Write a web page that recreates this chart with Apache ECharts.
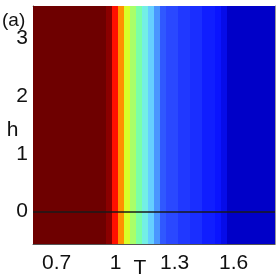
<!DOCTYPE html>
<html>
<head>
<meta charset="utf-8">
<script src="https://cdn.jsdelivr.net/npm/echarts@6/dist/echarts.min.js"></script>
<style>
html,body{margin:0;padding:0;background:#fff;}
#c{width:277px;height:277px;}
</style>
</head>
<body>
<div id="c"></div>
<script>
// T cell edges (41 edges -> 40 cells)
var tEdges = [0.580,0.611,0.642,0.672,0.703,0.734,0.765,0.795,0.826,0.857,
              0.888,0.918,0.949,0.980,1.011,1.041,1.072,1.103,1.134,1.164,
              1.195,1.226,1.257,1.287,1.318,1.349,1.380,1.410,1.441,1.472,
              1.503,1.533,1.564,1.595,1.626,1.656,1.687,1.718,1.749,1.779,1.810];
// colour value of each T cell (constant in h)
var cellValue = [1.0,1.0,1.0,1.0,1.0,1.0,1.0,1.0,1.0,1.0,
                 1.0,1.0,0.9,0.8,0.7,0.6,0.55,0.5,0.43,0.37,
                 0.3,0.22,0.2,0.2,0.17,0.17,0.15,0.15,0.12,0.12,
                 0.1,0.06,0.0,0.0,0.0,0.0,0.0,0.0,0.0,0.0];
var hRange = [-0.56, 3.56];
var tRange = [0.58, 1.81];
var xTicks = [0.7, 1.0, 1.3, 1.6];
var yTicks = [0, 1, 2, 3];
var xTickLabels = ['0.7', '1', '1.3', '1.6'];
var yTickLabels = ['0', '1', '2', '3'];
var xName = 'T', yName = 'h', panelTag = '(a)';

var cells = [];
for (var i = 0; i < cellValue.length; i++) {
  cells.push([tEdges[i], tEdges[i + 1], cellValue[i]]);
}

var FONT = "'Liberation Sans',Arial,sans-serif";
var chart = echarts.init(document.getElementById('c'), null, {renderer: 'canvas'});

function labelFmt(ticks, labels) {
  return function (v) {
    for (var i = 0; i < ticks.length; i++) {
      if (Math.abs(ticks[i] - v) < 1e-6) return labels[i];
    }
    return '';
  };
}

chart.setOption({
  animation: false,
  backgroundColor: '#fff',
  grid: {left: 33, top: 6, right: 2, bottom: 33, containLabel: false, outerBoundsMode: 'none'},
  visualMap: {
    type: 'continuous', show: false, min: 0, max: 1, dimension: 2, seriesIndex: 0,
    inRange: {color: ['#0000c8','#0a14ff','#2a48ff','#4a96ff','#70e8ff','#7affa8',
                      '#d8ff28','#ff9000','#ff1000','#8b0000','#6e0000']}
  },
  xAxis: [{
    type: 'value', min: tRange[0], max: tRange[1], position: 'bottom',
    axisLine: {show: true, onZero: false, lineStyle: {color: '#555', width: 1}},
    axisTick: {show: true, inside: true, length: 3, customValues: xTicks, lineStyle: {color: '#777'}},
    axisLabel: {show: true, customValues: xTicks, formatter: labelFmt(xTicks, xTickLabels),
      fontFamily: FONT, fontSize: 21, color: '#111', margin: 9},
    splitLine: {show: false}
  }, {
    type: 'value', min: tRange[0], max: tRange[1], position: 'top',
    axisLine: {show: true, onZero: false, lineStyle: {color: '#999', width: 1}},
    axisTick: {show: true, inside: true, length: 3, customValues: xTicks, lineStyle: {color: '#777'}},
    axisLabel: {show: false}, splitLine: {show: false}
  }],
  yAxis: [{
    type: 'value', min: hRange[0], max: hRange[1], position: 'left',
    axisLine: {show: true, onZero: false, lineStyle: {color: '#555', width: 1}},
    axisTick: {show: true, inside: true, length: 3, customValues: yTicks, lineStyle: {color: '#777'}},
    axisLabel: {show: true, customValues: yTicks, formatter: labelFmt(yTicks, yTickLabels),
      fontFamily: FONT, fontSize: 21, color: '#111', margin: 5},
    splitLine: {show: false}
  }, {
    type: 'value', min: hRange[0], max: hRange[1], position: 'right',
    axisLine: {show: true, onZero: false, lineStyle: {color: '#999', width: 1}},
    axisTick: {show: true, inside: true, length: 3, customValues: yTicks, lineStyle: {color: '#777'}},
    axisLabel: {show: false}, splitLine: {show: false}
  }],
  graphic: [{
    type: 'text', x: 2, y: 21,
    style: {text: panelTag, font: "19px " + FONT, fill: '#111', textAlign: 'left', textVerticalAlign: 'middle'}
  }, {
    type: 'text', x: 12.5, y: 130,
    style: {text: yName, font: "21px " + FONT, fill: '#111', textAlign: 'center', textVerticalAlign: 'middle'}
  }, {
    type: 'text', x: 140, y: 268,
    style: {text: xName, font: "21px " + FONT, fill: '#111', textAlign: 'center', textVerticalAlign: 'middle'}
  }],
  series: [{
    type: 'custom',
    xAxisIndex: 0, yAxisIndex: 0,
    clip: true,
    encode: {x: [0, 1]},
    data: cells,
    renderItem: function (params, api) {
      var cs = params.coordSys;
      var p0 = api.coord([api.value(0), hRange[1]]);
      var p1 = api.coord([api.value(1), hRange[0]]);
      var x0 = Math.round(p0[0]), x1 = Math.round(p1[0]);
      return {
        type: 'rect',
        shape: {x: x0, y: cs.y, width: x1 - x0, height: cs.height},
        style: {fill: api.visual('color')}
      };
    },
    markLine: {
      silent: true, symbol: ['none', 'none'], label: {show: false},
      lineStyle: {color: '#1a1a1a', width: 1.5, type: 'solid'},
      data: [{yAxis: 0}]
    },
    z: 1
  }]
});
</script>
</body>
</html>
